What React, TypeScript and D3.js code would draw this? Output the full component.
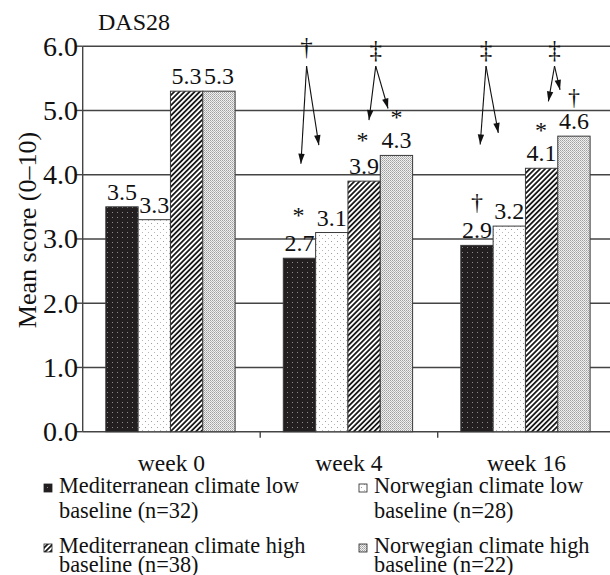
import React from "react";
import * as d3 from "d3";

const weeks = ["week 0", "week 4", "week 16"];
const seriesKeys = ["medLow", "norLow", "medHigh", "norHigh"];
const seriesLegend = [
  ["Mediterranean climate low", "baseline (n=32)"],
  ["Norwegian climate low", "baseline (n=28)"],
  ["Mediterranean climate high", "baseline (n=38)"],
  ["Norwegian climate high", "baseline (n=22)"],
];
const medLow = [3.5, 2.7, 2.9];
const norLow = [3.3, 3.1, 3.2];
const medHigh = [5.3, 3.9, 4.1];
const norHigh = [5.3, 4.3, 4.6];
const seriesValues = [medLow, norLow, medHigh, norHigh];
const yTicks = [0, 1, 2, 3, 4, 5, 6];

// markers: week index, position (in bar units within group), value (baseline level), symbol
const markers = [
  { w: 1, pos: 0.47, v: 3.25, s: "*" },
  { w: 1, pos: 2.45, v: 4.41, s: "*" },
  { w: 1, pos: 3.5, v: 4.78, s: "*" },
  { w: 2, pos: 0.5, v: 3.45, s: "†" },
  { w: 2, pos: 2.48, v: 4.57, s: "*" },
  { w: 2, pos: 3.5, v: 5.08, s: "†" },
];
// arrow groups: symbol on top, apex, two targets
const arrowGroups = [
  { w: 1, s: "†", pos: 0.72, apex: 5.69, targets: [[0.545, 4.17], [1.1, 4.46]] },
  { w: 1, s: "‡", pos: 2.86, apex: 5.69, targets: [[2.65, 4.85], [3.24, 5.03]] },
  { w: 2, s: "‡", pos: 0.78, apex: 5.69, targets: [[0.6, 4.47], [1.16, 4.65]] },
  { w: 2, s: "‡", pos: 2.9, apex: 5.69, targets: [[2.71, 5.14], [3.07, 5.32]] },
];

const W = 610;
const H = 575;
const left = 82.7;
const top = 46.2;
const bottom = 431.7;
const right = 615.2;
const groupW = 129.3;
const font = "'Liberation Serif', 'Times New Roman', serif";
const gridColor = "#444";

export default function App() {
  const y = d3.scaleLinear().domain([0, 6]).range([bottom, top]);
  const x0 = d3.scaleBand().domain(weeks).range([left, right]).padding(0);
  const x1 = d3.scaleBand().domain(seriesKeys).range([0, groupW]).padding(0);
  const bw = x1.bandwidth();
  const groupStart = (i: number) => (x0(weeks[i]) as number) + (x0.bandwidth() - groupW) / 2 - 1;
  const posX = (i: number, p: number) => groupStart(i) + p * bw;
  const fills = ["url(#pDark)", "url(#pLight)", "url(#pHatch)", "url(#pStip)"];

  const arrowHead = (x1p: number, y1p: number, x2p: number, y2p: number) => {
    const ang = Math.atan2(y2p - y1p, x2p - x1p);
    const len = 10;
    const half = 3.2;
    const bx = x2p - len * Math.cos(ang);
    const by = y2p - len * Math.sin(ang);
    const px = -Math.sin(ang) * half;
    const py = Math.cos(ang) * half;
    return `M${x2p},${y2p}L${bx + px},${by + py}L${bx - px},${by - py}Z`;
  };

  const boundaries = weeks.slice(1).map((w) => x0(w) as number);

  return (
    <svg
      width={W}
      height={H}
      style={{ position: "absolute", left: 0, top: 0, background: "#fff" }}
      fontFamily={font}
    >
      <defs>
        <pattern id="pDark" patternUnits="userSpaceOnUse" width="5" height="5">
          <rect width="5" height="5" fill="#231f20" />
          <rect x="2" y="2" width="1" height="1" fill="#8a8a8a" />
        </pattern>
        <pattern id="pLight" patternUnits="userSpaceOnUse" width="6" height="6">
          <rect width="6" height="6" fill="#fff" />
          <rect x="1" y="1" width="1" height="1" fill="#a0a0a0" />
          <rect x="4" y="4" width="1" height="1" fill="#b8b8b8" />
        </pattern>
        <pattern
          id="pHatch"
          patternUnits="userSpaceOnUse"
          width="3.6"
          height="8"
          patternTransform="rotate(45)"
        >
          <rect width="3.6" height="8" fill="#fff" />
          <rect width="1.8" height="8" fill="#1a1a1a" />
        </pattern>
        <pattern id="pStip" patternUnits="userSpaceOnUse" width="2" height="2">
          <rect width="2" height="2" fill="#f0f0f0" />
          <rect x="0" y="0" width="1" height="1" fill="#a0a0a0" />
          <rect x="1" y="1" width="1" height="1" fill="#b8b8b8" />
        </pattern>
      </defs>

      {/* title */}
      <text x={98} y={30} fontSize={24} fill="#111">
        DAS28
      </text>

      {/* gridlines */}
      {yTicks.slice(1).map((t) => (
        <line key={t} x1={left} x2={W} y1={y(t)} y2={y(t)} stroke={gridColor} strokeWidth={1.4} />
      ))}
      {/* y ticks + labels */}
      {yTicks.map((t) => (
        <g key={"t" + t}>
          <line x1={left - 7} x2={left} y1={y(t)} y2={y(t)} stroke={gridColor} strokeWidth={1.4} />
          <text x={78} y={y(t) + 9.5} textAnchor="end" fontSize={28} fill="#111">
            {t.toFixed(1)}
          </text>
        </g>
      ))}
      {/* y axis */}
      <line x1={left} x2={left} y1={top} y2={bottom} stroke={gridColor} strokeWidth={1.4} />
      {/* x axis */}
      <line x1={left} x2={W} y1={bottom} y2={bottom} stroke={gridColor} strokeWidth={1.4} />
      {boundaries.map((b, i) => (
        <line key={"b" + i} x1={b} x2={b} y1={bottom} y2={bottom + 6} stroke={gridColor} strokeWidth={1.4} />
      ))}

      {/* y title */}
      <text
        transform={`translate(36, 230) rotate(-90)`}
        textAnchor="middle"
        fontSize={26}
        fill="#111"
      >
        Mean score (0–10)
      </text>

      {/* bars */}
      {weeks.map((w, wi) => (
        <g key={w}>
          {seriesKeys.map((k, si) => {
            const v = seriesValues[si][wi];
            const bx = groupStart(wi) + (x1(k) as number);
            return (
              <g key={k}>
                <rect
                  x={bx}
                  y={y(v)}
                  width={bw}
                  height={bottom - y(v)}
                  fill={fills[si]}
                  stroke="#3a3a3a"
                  strokeWidth={1}
                />
                <text x={bx + bw / 2} y={y(v) - 7} textAnchor="middle" fontSize={24} fill="#111">
                  {v.toFixed(1)}
                </text>
              </g>
            );
          })}
          <text x={(x0(w) as number) + x0.bandwidth() / 2} y={471} textAnchor="middle" fontSize={23.5} fill="#111">
            {w}
          </text>
        </g>
      ))}

      {/* markers */}
      {markers.map((m, i) => (
        <text
          key={"m" + i}
          x={posX(m.w, m.pos)}
          y={y(m.v)}
          textAnchor="middle"
          fontSize={24}
          fill="#111"
        >
          {m.s}
        </text>
      ))}

      {/* arrow groups */}
      {arrowGroups.map((g, i) => {
        const ax = posX(g.w, g.pos);
        const ay = y(g.apex);
        return (
          <g key={"a" + i}>
            <text x={ax} y={g.s === "‡" ? 58 : 55} textAnchor="middle" fontSize={25} fill="#111">
              {g.s}
            </text>
            {g.targets.map((t, j) => {
              const tx = posX(g.w, t[0]);
              const ty = y(t[1]);
              return (
                <g key={j}>
                  <line x1={ax} y1={ay} x2={tx} y2={ty} stroke="#111" strokeWidth={1.1} />
                  <path d={arrowHead(ax, ay, tx, ty)} fill="#111" />
                </g>
              );
            })}
          </g>
        );
      })}

      {/* legend */}
      {seriesLegend.map((lines, i) => {
        const col = i % 2;
        const row = Math.floor(i / 2);
        const lx = col === 0 ? 44 : 359;
        const ly = 493 + row * 60;
        const lineGap = row === 0 ? 25 : 19;
        return (
          <g key={"l" + i}>
            <rect x={lx} y={ly - 9} width={8} height={8} fill={fills[i]} stroke="#222" strokeWidth={0.8} />
            <text x={lx + 15} y={ly} fontSize={22.3} fill="#111">
              {lines[0]}
            </text>
            <text x={lx + 15} y={ly + lineGap} fontSize={22.3} fill="#111">
              {lines[1]}
            </text>
          </g>
        );
      })}
    </svg>
  );
}
